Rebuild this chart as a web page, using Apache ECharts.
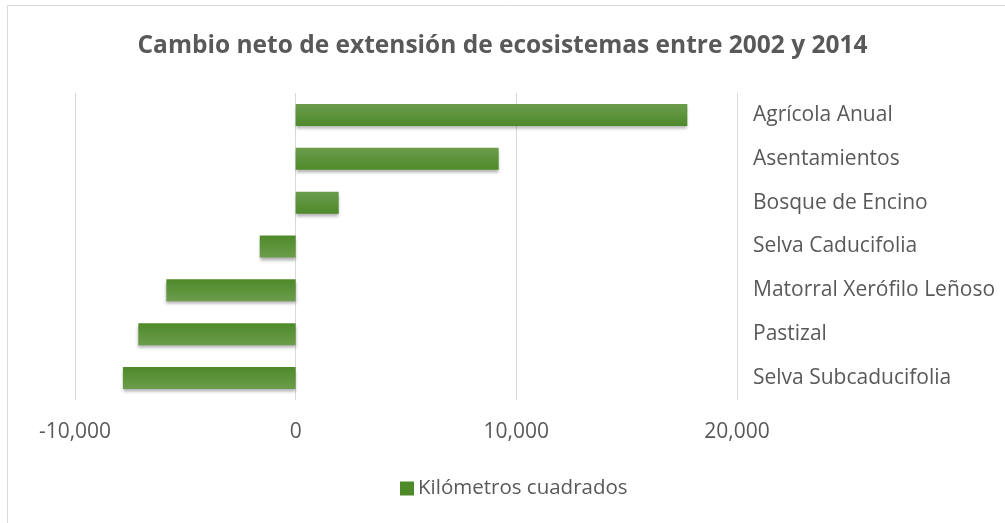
<!DOCTYPE html>
<html>
<head>
<meta charset="utf-8">
<script src="https://cdn.jsdelivr.net/npm/echarts@6/dist/echarts.min.js"></script>
<style>
  html, body { margin: 0; padding: 0; background: #fff; }
  #chart { width: 1005px; height: 523px; }
</style>
</head>
<body>
<div id="chart"></div>
<script>
const categories = [
  "Agrícola Anual",
  "Asentamientos",
  "Bosque de Encino",
  "Selva Caducifolia",
  "Matorral Xerófilo Leñoso",
  "Pastizal",
  "Selva Subcaducifolia"
];
const values = [17750, 9200, 1950, -1630, -5860, -7130, -7830];
const seriesName = "Kilómetros cuadrados";
const titleText = "Cambio neto de extensión de ecosistemas entre 2002 y 2014";

const light = "#6c9c4c";
const dark = "#4e8a2a";
const font = "Open Sans";
const textColor = "#595959";

// Excel rota el degradado con la barra: las negativas van al revés
function barColor(v) {
  const top = v >= 0 ? light : dark;
  const bottom = v >= 0 ? dark : light;
  return new echarts.graphic.LinearGradient(0, 0, 0, 1, [
    { offset: 0, color: top },
    { offset: 1, color: bottom }
  ]);
}

const chart = echarts.init(document.getElementById("chart"));
chart.setOption({
  animation: false,
  textStyle: { fontFamily: font },
  title: {
    text: titleText,
    left: "center",
    top: 29,
    textStyle: { fontFamily: font, fontSize: 24.5, fontWeight: "bold", color: textColor }
  },
  graphic: [{
    type: "rect",
    shape: { x: 7.5, y: 5.5, width: 1010, height: 530 },
    style: { fill: "none", stroke: "#d9d9d9", lineWidth: 1 },
    silent: true
  }],
  grid: { left: 75, right: 268, top: 93, bottom: 123 },
  legend: {
    bottom: 19,
    left: 395,
    icon: "rect",
    itemWidth: 14,
    itemHeight: 14,
    textStyle: { fontFamily: font, fontSize: 20.5, color: textColor, padding: [0, 0, 0, -1] },
    data: [seriesName]
  },
  xAxis: {
    type: "value",
    min: -10000,
    max: 20000,
    interval: 10000,
    axisLine: { show: false },
    axisTick: { show: false },
    splitLine: { lineStyle: { color: "#d9d9d9", width: 1 } },
    axisLabel: {
      fontFamily: font,
      fontSize: 21,
      color: textColor,
      margin: 22,
      formatter: v => v.toLocaleString("en-US")
    }
  },
  yAxis: {
    type: "category",
    data: categories,
    inverse: true,
    position: "right",
    axisLine: { show: false, onZero: false },
    axisTick: { show: false },
    axisLabel: { fontFamily: font, fontSize: 21, color: textColor, margin: 16, padding: [6, 0, 0, 0] }
  },
  series: [{
    name: seriesName,
    type: "bar",
    barWidth: 22,
    itemStyle: {
      color: dark,
      shadowColor: "rgba(0,0,0,0.3)",
      shadowBlur: 3,
      shadowOffsetY: 3
    },
    data: values.map(v => ({ value: v, itemStyle: { color: barColor(v) } }))
  }]
});
</script>
</body>
</html>
